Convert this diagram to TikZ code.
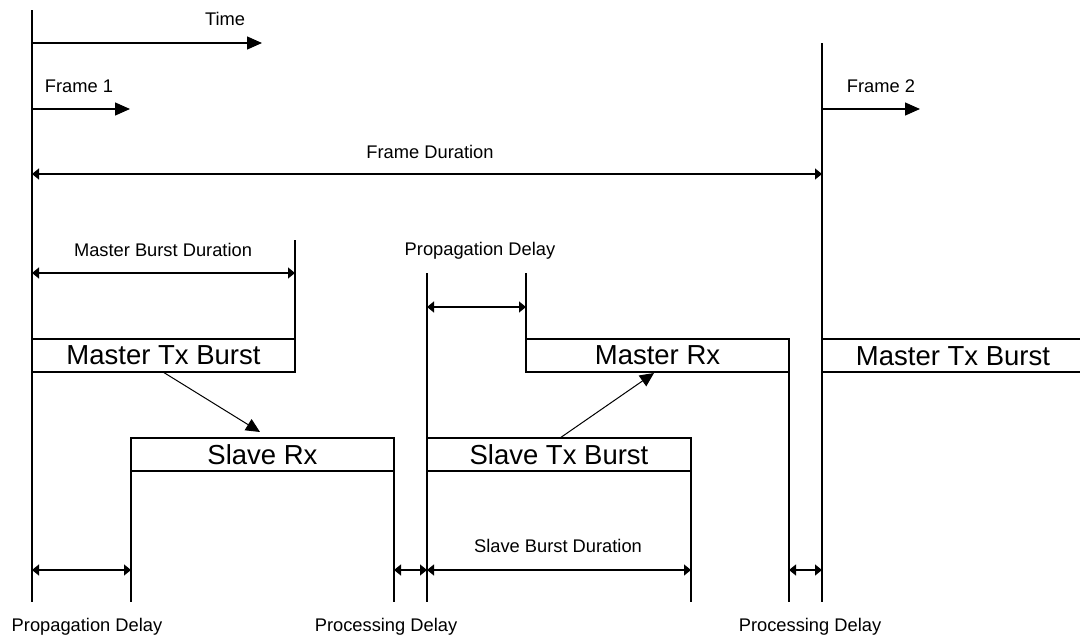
\documentclass[tikz,border=0pt]{standalone}
\usepackage{fontspec}
\setmainfont{Liberation Sans}
\usetikzlibrary{arrows.meta}
\begin{document}
\begin{tikzpicture}[x=1pt,y=-1pt,line width=1.3pt,
  small/.style={font=\fontsize{18.3}{22}\selectfont, inner sep=0pt},
  big/.style={font=\fontsize{27.5}{33}\selectfont, inner sep=0pt},
  burst/.style={draw, big, minimum width=263pt, minimum height=33pt, anchor=north west, outer sep=0pt},
  dim/.style={{Triangle[length=7pt,width=11pt]}-{Triangle[length=7pt,width=11pt]}},
  timearrow/.style={-{Triangle[length=15pt,width=13pt]}},
  flow/.style={line width=1pt,-{Triangle[length=14pt,width=13pt]}}]
\useasboundingbox (0,0) rectangle (1080,637);

% burst boxes
\node[burst] (mtx) at (32,339) {Master Tx Burst};
\node[burst] (srx) at (131,438) {Slave Rx};
\node[burst, minimum width=264pt] (stx) at (427,438) {Slave Tx Burst};
\node[burst] (mrx) at (526,339) {Master Rx};
\node[big] (mtx2) at (953,356) {Master Tx Burst};

% right, open-ended box of frame 2
\coordinate (m2tl) at (822,339);
\coordinate (m2tr) at (1080,339);
\coordinate (m2bl) at (822,372);
\coordinate (m2br) at (1080,372);
\draw (m2tl) -- (m2tr);
\draw (m2bl) -- (m2br);

% vertical time lines
\coordinate (a0) at (32,10);   \coordinate (a1) at (32,602);
\coordinate (b0) at (822,43);  \coordinate (b1) at (822,602);
\coordinate (c0) at (295,240);
\coordinate (d0) at (427,273); \coordinate (d1) at (427,602);
\coordinate (e0) at (526,273);
\coordinate (f1) at (131,602);
\coordinate (g1) at (394,602);
\coordinate (h1) at (691,602);
\coordinate (k1) at (789,602);
\draw (a0) -- (a1);
\draw (b0) -- (b1);
\draw (c0) -- (mtx.north east);
\draw (d0) -- (d1);
\draw (e0) -- (mrx.north west);
\draw (srx.south west) -- (f1);
\draw (srx.south east) -- (g1);
\draw (stx.south east) -- (h1);
\draw (mrx.south east) -- (k1);

% time / frame arrows
\coordinate (t0) at (32,43);   \coordinate (t1) at (262,43);
\coordinate (f10) at (32,109); \coordinate (f11) at (130,109);
\coordinate (f20) at (822,109);\coordinate (f21) at (920,109);
\draw[timearrow] (t0) -- (t1);
\draw[timearrow] (f10) -- (f11);
\draw[timearrow] (f20) -- (f21);
\node[small] (ttime) at (225,19) {Time};
\node[small] (tf1) at (79,86) {Frame 1};
\node[small] (tf2) at (881,86) {Frame 2};

% dimension arrows
\coordinate (fd0) at (32,174);  \coordinate (fd1) at (822,174);
\coordinate (mb0) at (32,273);  \coordinate (mb1) at (295,273);
\coordinate (pu0) at (427,307); \coordinate (pu1) at (526,307);
\coordinate (pl0) at (32,570);  \coordinate (pl1) at (131,570);
\coordinate (pr0) at (394,570); \coordinate (pr1) at (427,570);
\coordinate (sb1) at (691,570);
\coordinate (pq0) at (789,570); \coordinate (pq1) at (822,570);
\draw[dim] (fd0) -- (fd1);
\draw[dim] (mb0) -- (mb1);
\draw[dim] (pu0) -- (pu1);
\draw[dim] (pl0) -- (pl1);
\draw[dim] (pr0) -- (pr1);
\draw[dim] (pr1) -- (sb1);
\draw[dim] (pq0) -- (pq1);

\node[small] (tfd) at (430,152) {Frame Duration};
\node[small] (tmb) at (163,250) {Master Burst Duration};
\node[small] (tpu) at (480,251) {Propagation Delay};
\node[small] (tsb) at (558,546) {Slave Burst Duration};
\node[small] (tpl) at (87,627) {Propagation Delay};
\node[small] (tpr) at (386,627) {Processing Delay};
\node[small] (tpq) at (810,627) {Processing Delay};

% signal flow arrows
\coordinate (s1) at (163,372);
\coordinate (s2) at (260,432);
\coordinate (r1) at (560,438);
\coordinate (r2) at (654,373);
\draw[flow] (s1) -- (s2);
\draw[flow] (r1) -- (r2);
\end{tikzpicture}
\end{document}
